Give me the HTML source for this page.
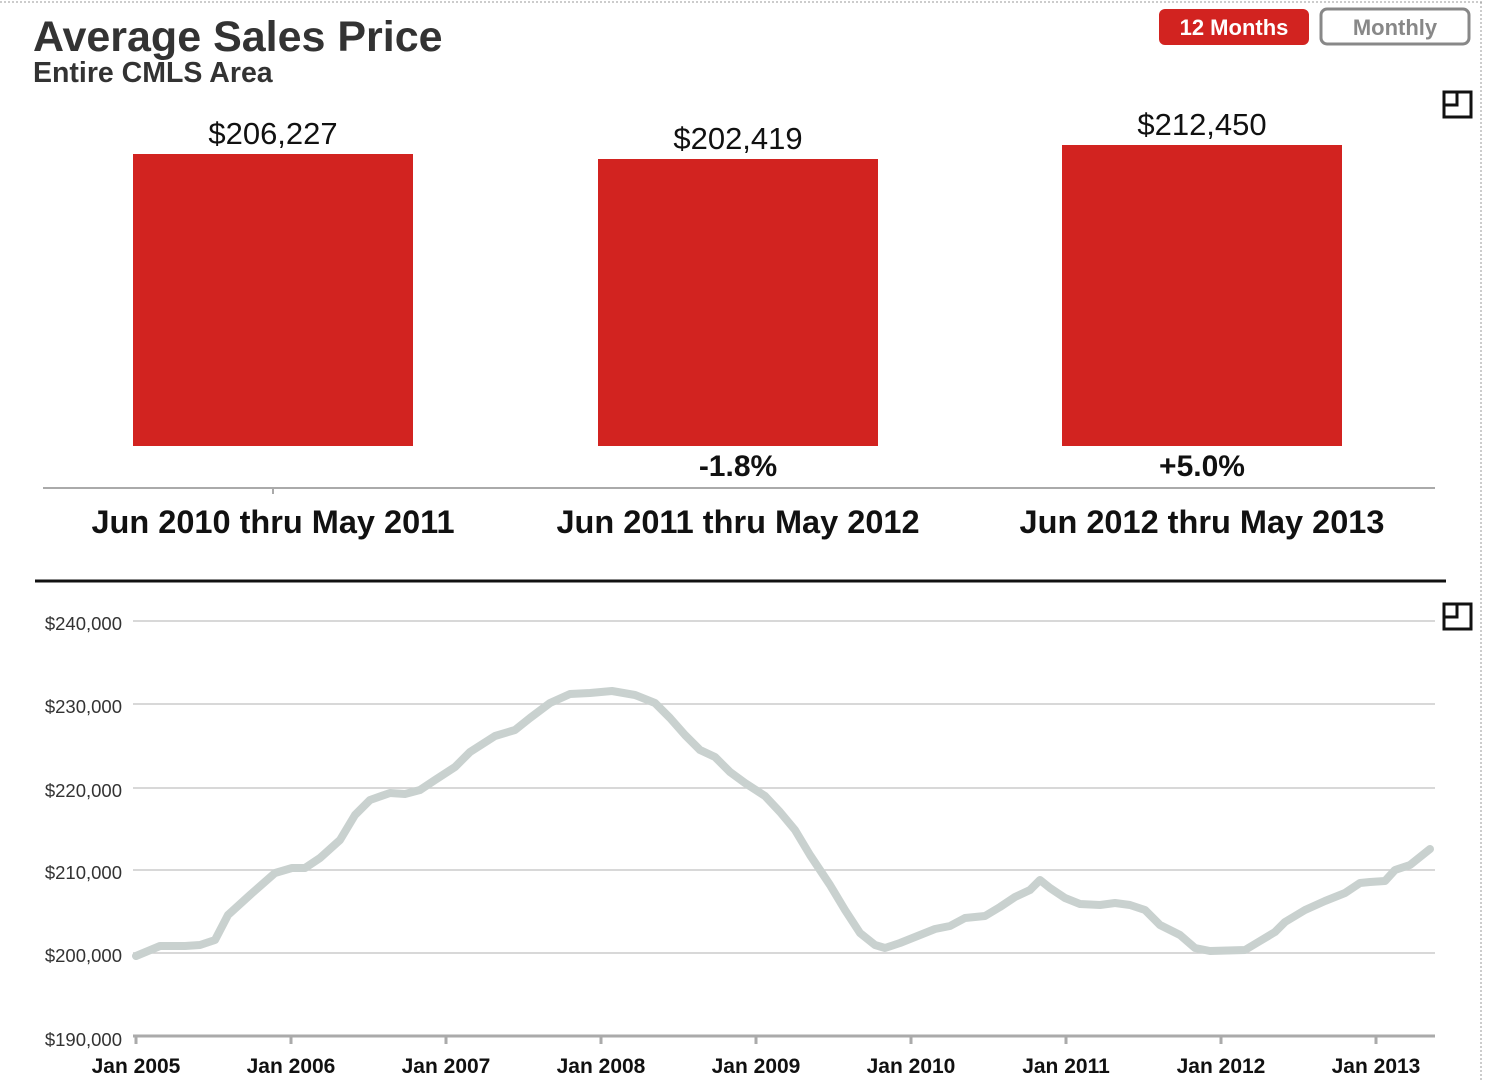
<!DOCTYPE html>
<html><head><style>
body{margin:0;background:#fff;width:1485px;height:1080px;overflow:hidden;font-family:"Liberation Sans",Arial,sans-serif;}
</style></head><body>
<svg width="1485" height="1080" xmlns="http://www.w3.org/2000/svg" font-family="Liberation Sans, Arial, sans-serif">
<line x1="0" y1="2" x2="1482" y2="2" stroke="#999" stroke-dasharray="2,2"/>
<line x1="1481" y1="2" x2="1481" y2="1080" stroke="#999" stroke-dasharray="2,2"/>
<text x="33" y="51" font-size="43" font-weight="bold" fill="#333">Average Sales Price</text>
<text x="33" y="82" font-size="28.5" font-weight="bold" fill="#333">Entire CMLS Area</text>
<rect x="1159" y="9" width="150" height="36" rx="6" fill="#d22320"/>
<text x="1234" y="35" font-size="22" font-weight="bold" fill="#fff" text-anchor="middle">12 Months</text>
<rect x="1321" y="9" width="148" height="35" rx="6" fill="#fff" stroke="#888" stroke-width="3"/>
<text x="1395" y="35" font-size="22" font-weight="bold" fill="#888" text-anchor="middle">Monthly</text>
<g fill="none" stroke="#111" stroke-width="3">
<rect x="1444" y="92" width="27" height="25"/><polyline points="1444,105 1457,105 1457,92"/>
<rect x="1444" y="604" width="27" height="25"/><polyline points="1444,617 1457,617 1457,604"/>
</g>
<g fill="#d22320">
<rect x="133" y="154" width="280" height="292"/>
<rect x="598" y="159" width="280" height="287"/>
<rect x="1062" y="145" width="280" height="301"/>
</g>
<g font-size="31" fill="#111" text-anchor="middle">
<text x="273" y="144">$206,227</text>
<text x="738" y="149">$202,419</text>
<text x="1202" y="135">$212,450</text>
</g>
<g font-size="30" font-weight="bold" fill="#111" text-anchor="middle">
<text x="738" y="476">-1.8%</text>
<text x="1202" y="476">+5.0%</text>
</g>
<g font-size="32.5" font-weight="bold" fill="#111" text-anchor="middle">
<text x="273" y="533">Jun 2010 thru May 2011</text>
<text x="738" y="533">Jun 2011 thru May 2012</text>
<text x="1202" y="533">Jun 2012 thru May 2013</text>
</g>
<line x1="43" y1="488" x2="1435" y2="488" stroke="#aaa" stroke-width="2"/>
<line x1="273" y1="488" x2="273" y2="494" stroke="#aaa" stroke-width="2"/>
<line x1="35" y1="581" x2="1446" y2="581" stroke="#111" stroke-width="3"/>
<g stroke="#ccc" stroke-width="1.5">
<line x1="133" y1="621" x2="1435" y2="621"/>
<line x1="133" y1="704" x2="1435" y2="704"/>
<line x1="133" y1="788" x2="1435" y2="788"/>
<line x1="133" y1="870" x2="1435" y2="870"/>
<line x1="133" y1="953" x2="1435" y2="953"/>
</g>
<line x1="133" y1="1036" x2="1435" y2="1036" stroke="#aaa" stroke-width="3"/>
<g stroke="#aaa" stroke-width="3">
<line x1="136" y1="1036" x2="136" y2="1044"/><line x1="291" y1="1036" x2="291" y2="1044"/>
<line x1="446" y1="1036" x2="446" y2="1044"/><line x1="601" y1="1036" x2="601" y2="1044"/>
<line x1="756" y1="1036" x2="756" y2="1044"/><line x1="911" y1="1036" x2="911" y2="1044"/>
<line x1="1066" y1="1036" x2="1066" y2="1044"/><line x1="1221" y1="1036" x2="1221" y2="1044"/>
<line x1="1376" y1="1036" x2="1376" y2="1044"/>
</g>
<g font-size="18.5" fill="#333" text-anchor="end">
<text x="122" y="630">$240,000</text><text x="122" y="713">$230,000</text>
<text x="122" y="797">$220,000</text><text x="122" y="879">$210,000</text>
<text x="122" y="962">$200,000</text><text x="122" y="1046">$190,000</text>
</g>
<g font-size="21" font-weight="bold" fill="#111" text-anchor="middle">
<text x="136" y="1073">Jan 2005</text><text x="291" y="1073">Jan 2006</text>
<text x="446" y="1073">Jan 2007</text><text x="601" y="1073">Jan 2008</text>
<text x="756" y="1073">Jan 2009</text><text x="911" y="1073">Jan 2010</text>
<text x="1066" y="1073">Jan 2011</text><text x="1221" y="1073">Jan 2012</text>
<text x="1376" y="1073">Jan 2013</text>
</g>
<polyline fill="none" stroke="#c9d1cf" stroke-width="8" stroke-linejoin="round" stroke-linecap="round" points="136,956 160,946 185,946 200,945 215,940 228,915 250,895 275,873 292,868 305,868 320,858 340,840 355,815 370,800 390,793 405,794 420,790 435,780 455,767 470,752 495,736 515,730 530,718 550,703 570,694 590,693 612,691 635,695 655,703 670,718 685,735 700,750 715,757 730,772 745,783 765,796 780,812 795,830 810,855 830,885 845,910 860,933 875,945 885,948 900,943 915,937 935,929 950,926 965,918 985,916 1000,907 1015,897 1030,890 1040,880 1050,888 1065,898 1080,904 1100,905 1115,903 1130,905 1145,910 1160,925 1180,935 1195,948 1210,951 1245,950 1260,941 1275,932 1285,922 1305,910 1325,901 1345,893 1360,883 1370,882 1385,881 1395,870 1410,865 1430,849"/>
</svg>
</body></html>
